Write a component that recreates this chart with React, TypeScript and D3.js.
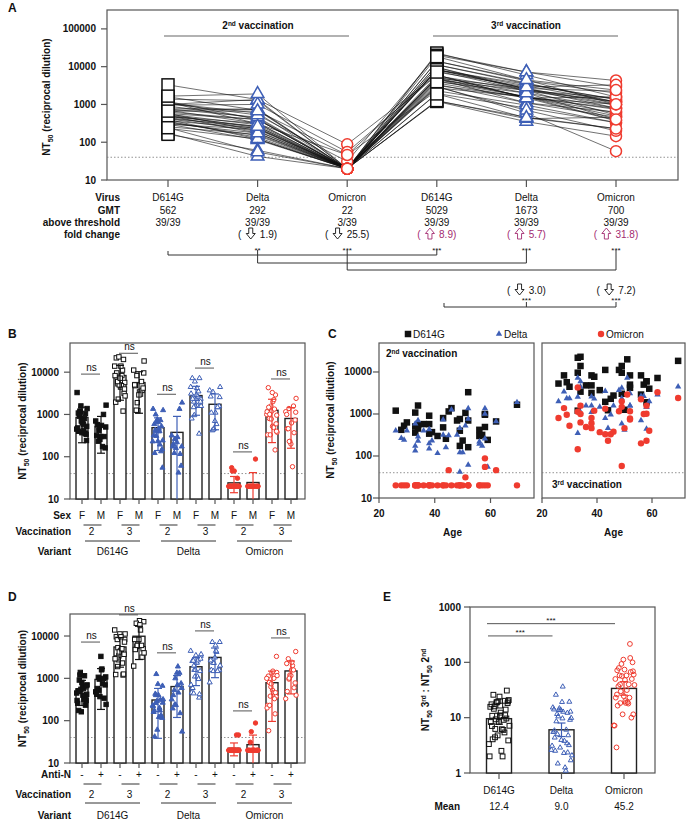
import React from 'react';
import * as d3 from 'd3';

const FONT = '"Liberation Sans", Arial, Helvetica, sans-serif';
const BLACK = '#111111';
const BLUE = '#3e5fb6';
const RED = '#ef3b2f';
const PURPLE = '#a32a70';
const FRAME = '#555555';

const AGE = [26, 28, 29, 30, 33, 33, 33, 34, 34, 34, 36, 38, 38, 38, 39, 41, 43, 43, 44, 45, 46, 48, 49, 49, 49, 50, 51, 52, 52, 52, 56, 56, 57, 58, 58, 58, 59, 62, 69.5];
const SEX = ['F', 'M', 'F', 'F', 'F', 'M', 'F', 'M', 'F', 'F', 'F', 'M', 'F', 'F', 'F', 'M', 'F', 'F', 'M', 'F', 'F', 'M', 'F', 'F', 'M', 'M', 'F', 'F', 'F', 'M', 'M', 'F', 'M', 'M', 'F', 'M', 'F', 'F', 'M'];
const ANTI_N = ['-', '-', '+', '-', '+', '-', '-', '-', '+', '-', '+', '-', '-', '+', '+', '-', '+', '-', '-', '-', '-', '-', '+', '-', '-', '-', '+', '+', '+', '-', '-', '+', '-', '+', '+', '-', '+', '-', '+'];
const D614G_2 = [1200, 420, 525, 630, 1080, 505, 360, 550, 1590, 450, 575, 575, 910, 340, 370, 300, 480, 800, 257, 1150, 1380, 700, 760, 400, 174, 233, 1060, 700, 3300, 162, 300, 420, 318, 1000, 960, 490, 242, 665, 1660];
const DELTA_2 = [400, 265, 242, 400, 590, 174, 134, 290, 700, 230, 400, 200, 430, 150, 233, 116, 318, 730, 160, 310, 1260, 318, 460, 122, 42, 122, 525, 760, 1350, 61, 220, 194, 174, 1350, 1000, 260, 55, 665, 1900];
const OMICRON_2 = [20, 20, 20, 20, 20, 20, 20, 20, 20, 20, 20, 20, 20, 20, 20, 20, 20, 20, 20, 46, 20, 20, 20, 20, 20, 20, 31, 20, 20, 20, 20, 20, 20, 88, 55, 20, 20, 46, 20];
const D614G_3 = [5300, 8300, 5700, 4450, 21800, 9600, 1200, 3400, 23000, 13900, 4800, 4800, 8300, 3170, 7700, 3700, 1950, 11200, 1230, 2300, 2750, 11200, 13900, 9600, 3030, 1260, 20000, 5000, 8300, 4200, 2900, 8300, 5000, 6000, 6000, 1900, 4000, 7200, 18400];
const DELTA_3 = [2000, 3400, 2340, 2340, 7200, 2560, 350, 1100, 6000, 4450, 1580, 1100, 2600, 1580, 2300, 1480, 800, 3500, 460, 960, 1580, 3700, 4200, 2340, 590, 420, 7200, 1580, 3100, 1580, 700, 2650, 2650, 1480, 1480, 440, 2000, 2900, 4450];
const OMICRON_3 = [800, 1380, 960, 525, 4300, 1130, 145, 630, 1580, 1000, 490, 460, 800, 600, 1200, 370, 330, 1340, 230, 330, 380, 1160, 2000, 1480, 58, 460, 2900, 780, 1160, 740, 200, 2240, 1000, 1580, 1010, 230, 400, 3300, 2400];

// ---- panel A text rows ----
const A_VIRUS = ['D614G', 'Delta', 'Omicron', 'D614G', 'Delta', 'Omicron'];
const A_GMT = ['562', '292', '22', '5029', '1673', '700'];
const A_ABOVE = ['39/39', '39/39', '3/39', '39/39', '39/39', '39/39'];
const A_FOLD_DIR = ['', 'down', 'down', 'up', 'up', 'up'];
const A_FOLD_VAL = ['', '1.9', '25.5', '8.9', '5.7', '31.8'];
const A_STARS = ['', '**', '***', '***', '***', '***'];
const A_FOLD2_IDX = [4, 5];
const A_FOLD2_VAL = ['3.0', '7.2'];
const THRESHOLD = 40;

// ---- panels B / D ----
const VARIANTS = ['D614G', 'Delta', 'Omicron'];
const VACCINATIONS = ['2', '3'];
const NS_B = [9000, 28000, 3000, 12500, 130, 6900];
const NS_D = [7200, 31600, 4000, 13200, 170, 9000];

// ---- panel E ----
const E_CATS = ['D614G', 'Delta', 'Omicron'];
const E_MEANS = ['12.4', '9.0', '45.2'];
const E_SIG_FROM = [0, 0];
const E_SIG_TO = [1, 2];
const E_SIG_VAL = [300, 500];

const COLORS = [BLACK, BLUE, RED];
const SHAPES = ['square', 'triangle', 'circle'];

const jit = (k: number) => ((k * 0.6180339887 + 0.31) % 1) - 0.5;

function textW(s: string) {
  let w = 0;
  for (const c of s) w += c === '.' ? 2.78 : c === ')' || c === '(' ? 3.33 : 5.56;
  return w;
}

function FoldText({ cx, y, dir, value, color }: any) {
  const label = value + ')';
  const g1 = 4.8, g2 = 4.6, aw = 9;
  const W = 3.33 + g1 + aw + g2 + textW(label);
  const sx = cx - W / 2;
  const ax = sx + 3.33 + g1 + aw / 2;
  const y0 = y - 10;
  const h = 11;
  const d =
    dir === 'down'
      ? `M${ax - 2},${y0}H${ax + 2}V${y0 + 5.5}H${ax + 4.5}L${ax},${y0 + h}L${ax - 4.5},${y0 + 5.5}H${ax - 2}Z`
      : `M${ax - 2},${y0 + h}H${ax + 2}V${y0 + 5.5}H${ax + 4.5}L${ax},${y0}L${ax - 4.5},${y0 + 5.5}H${ax - 2}Z`;
  return (
    <g>
      <text x={sx} y={y} fontSize={10} fill={color}>(</text>
      <path d={d} fill="none" stroke={color} strokeWidth={0.9} strokeLinejoin="miter" />
      <text x={sx + 3.33 + g1 + aw + g2} y={y} fontSize={10} fill={color}>{label}</text>
    </g>
  );
}

function Marker({ shape, x, y, size, color, fill, sw }: any) {
  if (shape === 'circle') return <circle cx={x} cy={y} r={size / 2} fill={fill} stroke={color} strokeWidth={sw} />;
  if (shape === 'square') return <rect x={x - size / 2} y={y - size / 2} width={size} height={size} fill={fill} stroke={color} strokeWidth={sw} />;
  const s = size * 1.15;
  const h = (s * Math.sqrt(3)) / 2;
  const p = `M${x},${y - (2 * h) / 3}L${x + s / 2},${y + h / 3}L${x - s / 2},${y + h / 3}Z`;
  return <path d={p} fill={fill} stroke={color} strokeWidth={sw} strokeLinejoin="miter" />;
}

function NT50Label({ x, y }: any) {
  return (
    <text transform={`translate(${x},${y}) rotate(-90)`} textAnchor="middle" fontWeight="bold" fontSize={10} fill={BLACK}>
      NT<tspan fontSize={7} dy={2.5}>50</tspan>
      <tspan dy={-2.5}> (reciprocal dilution)</tspan>
    </text>
  );
}

function LogYAxis({ y, x0, ticks, fmt, labelX }: any) {
  return (
    <g>
      {ticks.map((t: number) => (
        <g key={t}>
          <line x1={x0 - 6} x2={x0} y1={y(t)} y2={y(t)} stroke={FRAME} strokeWidth={1.2} />
          <text x={labelX} y={y(t) + 3.5} textAnchor="end" fontWeight="bold" fontSize={10} fill={BLACK}>
            {fmt ? fmt(t) : String(t)}
          </text>
        </g>
      ))}
    </g>
  );
}

function PanelA() {
  const L = 107, R = 678, T = 10, B = 180;
  const x = d3.scaleLinear().domain([0, 5]).range([168, 616]);
  const y = d3.scaleLog().domain([10, Math.pow(10, 5.5)]).range([B, T]);
  const series = [D614G_2, DELTA_2, OMICRON_2, D614G_3, DELTA_3, OMICRON_3];
  const line = d3.line<number>().x((_, i) => x(i)).y((v) => y(v));
  const donors = d3.range(AGE.length).map((i) => series.map((s) => s[i]));
  const rowLabels = ['Virus', 'GMT', 'above threshold', 'fold change'];
  const rowY = [201, 214, 226, 238];
  return (
    <g>
      <text x={8} y={12} fontWeight="bold" fontSize={12} fill={BLACK}>A</text>
      <rect x={L} y={T} width={R - L} height={B - T} fill="none" stroke={FRAME} strokeWidth={1.2} />
      <LogYAxis y={y} x0={L} ticks={[10, 100, 1000, 10000, 100000]} labelX={96} />
      <NT50Label x={50} y={97} />
      {d3.range(6).map((i) => (
        <line key={i} x1={x(i)} x2={x(i)} y1={B} y2={B + 7} stroke={FRAME} strokeWidth={1.2} />
      ))}
      <line x1={L} x2={R} y1={y(THRESHOLD)} y2={y(THRESHOLD)} stroke="#777" strokeWidth={0.8} strokeDasharray="1.5,2" />
      <line x1={164} x2={349} y1={36} y2={36} stroke="#666" strokeWidth={1.2} />
      <line x1={433} x2={618} y1={36} y2={36} stroke="#666" strokeWidth={1.2} />
      <text x={258} y={29} textAnchor="middle" fontWeight="bold" fontSize={10} fill={BLACK}>
        2<tspan fontSize={6.5} dy={-3.5}>nd</tspan><tspan dy={3.5}> vaccination</tspan>
      </text>
      <text x={526} y={29} textAnchor="middle" fontWeight="bold" fontSize={10} fill={BLACK}>
        3<tspan fontSize={6.5} dy={-3.5}>rd</tspan><tspan dy={3.5}> vaccination</tspan>
      </text>
      {donors.map((d, i) => (
        <path key={i} d={line(d) || ''} fill="none" stroke="#111" strokeWidth={0.6} />
      ))}
      {series.map((s, si) =>
        s.map((v, i) => (
          <Marker key={si + '-' + i} shape={SHAPES[si % 3]} x={x(si)} y={y(v)} size={si % 3 === 0 ? 12 : 11} color={COLORS[si % 3]} fill="white" sw={1.5} />
        ))
      )}
      {rowLabels.map((r, i) => (
        <text key={r} x={120} y={rowY[i]} textAnchor="end" fontWeight="bold" fontSize={10} fill={BLACK}>{r}</text>
      ))}
      {A_VIRUS.map((v, i) => (
        <g key={i} fontSize={10} fill={BLACK} textAnchor="middle">
          <text x={x(i)} y={rowY[0]}>{v}</text>
          <text x={x(i)} y={rowY[1]}>{A_GMT[i]}</text>
          <text x={x(i)} y={rowY[2]}>{A_ABOVE[i]}</text>
          <text x={x(i)} y={253} fontSize={8}>{A_STARS[i]}</text>
        </g>
      ))}
      {A_FOLD_VAL.map((v, i) =>
        v ? <FoldText key={i} cx={x(i)} y={rowY[3]} dir={A_FOLD_DIR[i]} value={v} color={A_FOLD_DIR[i] === 'up' ? PURPLE : BLACK} /> : null
      )}
      <g stroke="#333" strokeWidth={1} fill="none">
        <path d={`M${x(0)},251V255H${x(3)}V250`} />
        <path d={`M${x(1)},250V263H${x(4)}V250`} />
        <path d={`M${x(2)},250V270H${x(5)}V250`} />
        <path d={`M444,303V307H${x(5)}V302M${x(4)},302V307`} />
      </g>
      {A_FOLD2_IDX.map((ix, k) => (
        <g key={ix}>
          <FoldText cx={x(ix)} y={294} dir="down" value={A_FOLD2_VAL[k]} color={BLACK} />
          <text x={x(ix)} y={303} fontSize={8} textAnchor="middle" fill={BLACK}>***</text>
        </g>
      ))}
    </g>
  );
}

function BarPanel({ letter, letterY, top, bottom, yTopExp, groupArr, groupKeys, rowName, ns, rowsY }: any) {
  const L = 70, R = 305;
  const y = d3.scaleLog().domain([10, Math.pow(10, yTopExp)]).range([bottom, top]);
  const x = d3.scaleLinear().domain([0, 11]).range([82, 291]);
  const seriesByVariant = [[D614G_2, D614G_3], [DELTA_2, DELTA_3], [OMICRON_2, OMICRON_3]];
  const groups: any[] = [];
  VARIANTS.forEach((_, vi) =>
    [0, 1].forEach((vac) =>
      groupKeys.forEach((gk: string, gi: number) => {
        const vals = seriesByVariant[vi][vac].filter((_, i) => groupArr[i] === gk);
        groups.push({ idx: vi * 4 + vac * 2 + gi, vals, vi, vac, gk });
      })
    )
  );
  const bw = 12;
  return (
    <g>
      <text x={8} y={letterY} fontWeight="bold" fontSize={12} fill={BLACK}>{letter}</text>
      <rect x={L} y={top} width={R - L} height={bottom - top} fill="none" stroke={FRAME} strokeWidth={1.2} />
      <line x1={L} x2={R} y1={y(THRESHOLD)} y2={y(THRESHOLD)} stroke="#777" strokeWidth={0.8} strokeDasharray="1.5,2" />
      <LogYAxis y={y} x0={L} ticks={[10, 100, 1000, 10000]} labelX={59} />
      <NT50Label x={26} y={(top + bottom) / 2} />
      {groups.map((g) => {
        const m = d3.mean(g.vals) as number;
        const sd = (d3.deviation(g.vals) as number) || 0;
        const cx = x(g.idx);
        const col = COLORS[g.vi];
        const hi = m + sd;
        const lo = Math.max(m - sd, 10);
        return (
          <g key={g.idx}>
            <rect x={cx - bw / 2} y={y(m)} width={bw} height={bottom - y(m)} fill="white" stroke="#222" strokeWidth={1.4} />
            {g.vals.map((v: number, k: number) => (
              <Marker key={k} shape={SHAPES[g.vi]} x={cx + jit(k) * 11} y={y(v)} size={4.4} color={col} fill={g.vac === 0 ? col : 'white'} sw={1} />
            ))}
            <g stroke={col} strokeWidth={1.2}>
              <line x1={cx} x2={cx} y1={y(hi)} y2={y(lo)} />
              <line x1={cx - 4} x2={cx + 4} y1={y(hi)} y2={y(hi)} />
              {m - sd > 10 && <line x1={cx - 4} x2={cx + 4} y1={y(lo)} y2={y(lo)} />}
            </g>
            <line x1={cx} x2={cx} y1={bottom} y2={bottom + 5} stroke={FRAME} strokeWidth={1.2} />
            <text x={cx} y={rowsY[0]} textAnchor="middle" fontSize={10} fill={BLACK}>{g.gk}</text>
          </g>
        );
      })}
      {ns.map((v: number, p: number) => (
        <g key={p}>
          <line x1={x(p * 2) - 1} x2={x(p * 2 + 1) - 1} y1={y(v)} y2={y(v)} stroke="#555" strokeWidth={1} />
          <text x={(x(p * 2) + x(p * 2 + 1)) / 2} y={y(v) - 3} textAnchor="middle" fontSize={10} fill={BLACK}>ns</text>
        </g>
      ))}
      <text x={71} y={rowsY[0]} textAnchor="end" fontWeight="bold" fontSize={10} fill={BLACK}>{rowName}</text>
      <text x={71} y={rowsY[2]} textAnchor="end" fontWeight="bold" fontSize={10} fill={BLACK}>Vaccination</text>
      <text x={71} y={rowsY[4]} textAnchor="end" fontWeight="bold" fontSize={10} fill={BLACK}>Variant</text>
      {d3.range(6).map((p) => {
        const mid = (x(p * 2) + x(p * 2 + 1)) / 2;
        return (
          <g key={p}>
            <line x1={mid - 8} x2={mid + 10} y1={rowsY[1]} y2={rowsY[1]} stroke="#333" strokeWidth={1} />
            <text x={mid} y={rowsY[2]} textAnchor="middle" fontSize={10} fill={BLACK}>{VACCINATIONS[p % 2]}</text>
          </g>
        );
      })}
      {VARIANTS.map((v, vi) => {
        const a = x(vi * 4) + 3, b = x(vi * 4 + 3) + 1;
        return (
          <g key={v}>
            <line x1={a} x2={b} y1={rowsY[3]} y2={rowsY[3]} stroke="#333" strokeWidth={1} />
            <text x={(a + b) / 2} y={rowsY[4]} textAnchor="middle" fontSize={10} fill={BLACK}>{v}</text>
          </g>
        );
      })}
    </g>
  );
}

function PanelC() {
  const top = 343, bottom = 498;
  const y = d3.scaleLog().domain([10, Math.pow(10, 4.69)]).range([bottom, top]);
  const xL = d3.scaleLinear().domain([20, 75.6]).range([379, 534]);
  const xR = d3.scaleLinear().domain([20, 72]).range([542, 685]);
  const panels = [
    { x: xL, s: [D614G_2, DELTA_2, OMICRON_2] },
    { x: xR, s: [D614G_3, DELTA_3, OMICRON_3] },
  ];
  const sizes = [6.5, 5.5, 6.4];
  return (
    <g>
      <text x={328} y={338} fontWeight="bold" fontSize={12} fill={BLACK}>C</text>
      <NT50Label x={334} y={420} />
      <LogYAxis y={y} x0={379} ticks={[10, 100, 1000, 10000]} labelX={372} />
      {panels.map((p, pi) => {
        const [a, b] = p.x.range();
        return (
          <g key={pi}>
            <rect x={a} y={top} width={b - a} height={bottom - top} fill="none" stroke={FRAME} strokeWidth={1.2} />
            <line x1={a} x2={b} y1={y(THRESHOLD)} y2={y(THRESHOLD)} stroke="#777" strokeWidth={0.8} strokeDasharray="1.5,2" />
            {[20, 40, 60].map((t) => (
              <g key={t}>
                <line x1={p.x(t)} x2={p.x(t)} y1={bottom} y2={bottom + 5} stroke={FRAME} strokeWidth={1.2} />
                <text x={p.x(t)} y={517} textAnchor="middle" fontWeight="bold" fontSize={10} fill={BLACK}>{t}</text>
              </g>
            ))}
            <text x={(a + b) / 2 + (pi === 0 ? -4 : 0)} y={536} textAnchor="middle" fontWeight="bold" fontSize={10} fill={BLACK}>Age</text>
            {p.s.map((s, si) =>
              s.map((v, i) => (
                <Marker key={si + '-' + i} shape={SHAPES[si]} x={p.x(AGE[i])} y={y(v)} size={sizes[si]} color={COLORS[si]} fill={COLORS[si]} sw={0} />
              ))
            )}
          </g>
        );
      })}
      <text x={386} y={357} fontWeight="bold" fontSize={10} fill={BLACK}>
        2<tspan fontSize={6.5} dy={-3.5}>nd</tspan><tspan dy={3.5}> vaccination</tspan>
      </text>
      <text x={552} y={488} fontWeight="bold" fontSize={10} fill={BLACK}>
        3<tspan fontSize={6.5} dy={-3.5}>rd</tspan><tspan dy={3.5}> vaccination</tspan>
      </text>
      {E_CATS.map((c, i) => {
        const lx = [408, 499, 601][i];
        return (
          <g key={c}>
            <Marker shape={SHAPES[i]} x={lx} y={334} size={sizes[i]} color={COLORS[i]} fill={COLORS[i]} sw={0} />
            <text x={lx + 5} y={338} fontSize={10} fill={BLACK}>{c}</text>
          </g>
        );
      })}
    </g>
  );
}

function PanelE() {
  const L = 470, R = 655, top = 607, bottom = 773;
  const y = d3.scaleLog().domain([1, 1000]).range([bottom, top]);
  const x = d3.scaleLinear().domain([0, 2]).range([499, 624]);
  const ratios = [
    D614G_3.map((v, i) => v / D614G_2[i]),
    DELTA_3.map((v, i) => v / DELTA_2[i]),
    OMICRON_3.map((v, i) => v / OMICRON_2[i]),
  ];
  const bw = 25;
  return (
    <g>
      <text x={383} y={601} fontWeight="bold" fontSize={12} fill={BLACK}>E</text>
      <rect x={L} y={top} width={R - L} height={bottom - top} fill="none" stroke={FRAME} strokeWidth={1.2} />
      <LogYAxis y={y} x0={L} ticks={[1, 10, 100, 1000]} labelX={461} />
      <text transform={`translate(429,690) rotate(-90)`} textAnchor="middle" fontWeight="bold" fontSize={10} fill={BLACK}>
        NT<tspan fontSize={7} dy={2.5}>50</tspan>
        <tspan dy={-2.5}> 3</tspan><tspan fontSize={6.5} dy={-3.5}>rd</tspan>
        <tspan dy={3.5}> : NT</tspan><tspan fontSize={7} dy={2.5}>50</tspan>
        <tspan dy={-2.5}> 2</tspan><tspan fontSize={6.5} dy={-3.5}>nd</tspan>
      </text>
      {ratios.map((r, ci) => {
        const logs = r.map((v) => Math.log10(v));
        const gm = d3.mean(logs) as number;
        const se = (d3.deviation(logs) as number) / Math.sqrt(logs.length);
        const cx = x(ci);
        const col = COLORS[ci];
        const yb = y(Math.pow(10, gm));
        const yh = y(Math.pow(10, gm + 1.96 * se));
        const yl = y(Math.pow(10, gm - 1.96 * se));
        return (
          <g key={ci}>
            <rect x={cx - bw / 2} y={yb} width={bw} height={bottom - yb} fill="white" stroke="#222" strokeWidth={1.4} />
            {r.map((v, k) => (
              <Marker key={k} shape={SHAPES[ci]} x={cx + jit(k) * 21} y={y(v)} size={ci === 1 ? 4.3 : 4.8} color={col} fill="none" sw={1} />
            ))}
            <g stroke={col} strokeWidth={1.2}>
              <line x1={cx} x2={cx} y1={yh} y2={yl} />
              <line x1={cx - 4} x2={cx + 4} y1={yh} y2={yh} />
              <line x1={cx - 4} x2={cx + 4} y1={yl} y2={yl} />
            </g>
            <line x1={cx} x2={cx} y1={bottom} y2={bottom + 6} stroke={FRAME} strokeWidth={1.2} />
            <text x={cx} y={794} textAnchor="middle" fontSize={10} fill={BLACK}>{E_CATS[ci]}</text>
            <text x={cx} y={810} textAnchor="middle" fontSize={10} fill={BLACK}>{E_MEANS[ci]}</text>
          </g>
        );
      })}
      <text x={460} y={810} textAnchor="end" fontWeight="bold" fontSize={10} fill={BLACK}>Mean</text>
      {E_SIG_VAL.map((v, k) => {
        const a = x(E_SIG_FROM[k]) - 11 - (E_SIG_TO[k] === 2 ? 1 : 0);
        const b = x(E_SIG_TO[k]) - 9;
        return (
          <g key={k}>
            <line x1={a} x2={b} y1={y(v)} y2={y(v)} stroke="#555" strokeWidth={1} />
            <text x={(a + b) / 2} y={y(v) - 1} textAnchor="middle" fontSize={8} fill={BLACK}>***</text>
          </g>
        );
      })}
    </g>
  );
}

export default function App() {
  return (
    <svg width={700} height={824} viewBox="0 0 700 824" fontFamily={FONT}
      style={{ position: 'absolute', left: 0, top: 0, display: 'block' }}>
      <rect width={700} height={824} fill="#fff" />
      <PanelA />
      <BarPanel letter="B" letterY={338} top={343} bottom={499} yTopExp={4.69} groupArr={SEX} groupKeys={['F', 'M']}
        rowName="Sex" ns={NS_B} rowsY={[519, 525, 535, 541, 555]} />
      <PanelC />
      <BarPanel letter="D" letterY={601} top={614} bottom={763} yTopExp={4.52} groupArr={ANTI_N} groupKeys={['-', '+']}
        rowName="Anti-N" ns={NS_D} rowsY={[778, 784, 798, 803, 819]} />
      <PanelE />
    </svg>
  );
}
